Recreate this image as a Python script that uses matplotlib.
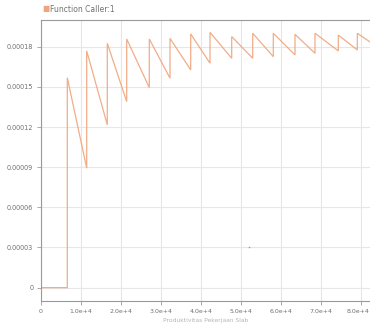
import matplotlib
matplotlib.use("Agg")
import matplotlib.pyplot as plt
from matplotlib.ticker import FixedLocator
from matplotlib.transforms import ScaledTranslation

# Data (sawtooth: peaks and troughs)
x_vals = [0, 6575, 6575, 11425, 11425, 16575, 16575, 21425, 21425, 27075, 27075,
          32250, 32250, 37425, 37425, 42250, 42250, 47675, 47675, 52925, 52925,
          58075, 58075, 63500, 63500, 68500, 68500, 74325, 74325, 79075, 79075, 82250]
y_vals = [0, 0, 1.569e-4, 8.93e-5, 1.769e-4, 1.2165e-4, 1.826e-4, 1.390e-4, 1.858e-4,
          1.495e-4, 1.858e-4, 1.565e-4, 1.863e-4, 1.627e-4, 1.896e-4, 1.677e-4,
          1.908e-4, 1.714e-4, 1.876e-4, 1.714e-4, 1.901e-4, 1.726e-4, 1.901e-4,
          1.739e-4, 1.893e-4, 1.751e-4, 1.901e-4, 1.769e-4, 1.888e-4, 1.776e-4,
          1.901e-4, 1.836e-4]
stray_x = [52000]
stray_y = [3.06e-5]

x_ticks = [0, 10000, 20000, 30000, 40000, 50000, 60000, 70000, 80000]
x_labels = ["0", "1.0e+4", "2.0e+4", "3.0e+4", "4.0e+4", "5.0e+4", "6.0e+4", "7.0e+4", "8.0e+4"]
y_ticks = [0, 3e-5, 6e-5, 9e-5, 1.2e-4, 1.5e-4, 1.8e-4]
y_labels = ["0", "0.00003", "0.00006", "0.00009", "0.00012", "0.00015", "0.00018"]
series_name = "Function Caller:1"
x_title = "Produktivitas Pekerjaan Slab"

line_color = "#f0a47a"
text_color = "#707070"

fig = plt.figure(figsize=(3.7, 3.25), dpi=100)
ax = fig.add_axes([41/370, 1 - 301/325, 1 - 41/370, 281/325])

ax.plot(x_vals, y_vals, color=line_color, lw=0.9, alpha=0.9, solid_joinstyle="miter")
ax.plot(stray_x, stray_y, 's', color="#999999", ms=1.0, mew=0)

ax.set_xlim(0, 82250)
ax.set_ylim(-1e-5, 2.0e-4)
ax.xaxis.set_major_locator(FixedLocator(x_ticks))
ax.set_xticklabels(x_labels)
ax.yaxis.set_major_locator(FixedLocator(y_ticks))
ax.set_yticklabels(y_labels)

ax.grid(True, color="#e6e6e6", lw=0.8)
ax.set_axisbelow(True)
for side in ["left", "bottom", "top"]:
    ax.spines[side].set_color("#9a9a9a")
    ax.spines[side].set_linewidth(0.8)
ax.spines["right"].set_visible(False)
ax.tick_params(axis="both", colors=text_color, length=3, width=0.6,
               color="#9a9a9a", pad=2.5)
ax.tick_params(axis="y", labelsize=4.7)
ax.tick_params(axis="x", labelsize=4.5)

# keep the last x label inside the canvas
last = ax.get_xticklabels()[-1]
last.set_transform(last.get_transform() + ScaledTranslation(-3/100, 0, fig.dpi_scale_trans))

ax.set_xlabel(x_title, fontsize=4.3, color="#b5b5b5", labelpad=3)

# legend at top left
fig.text(42/370, 1 - 9/325, "\u25A0", fontsize=5.5, color=line_color, va="center", ha="left")
fig.text(50/370, 1 - 9/325, series_name, fontsize=5.5, color=text_color, va="center", ha="left")

fig.savefig("out.png", dpi=100)
